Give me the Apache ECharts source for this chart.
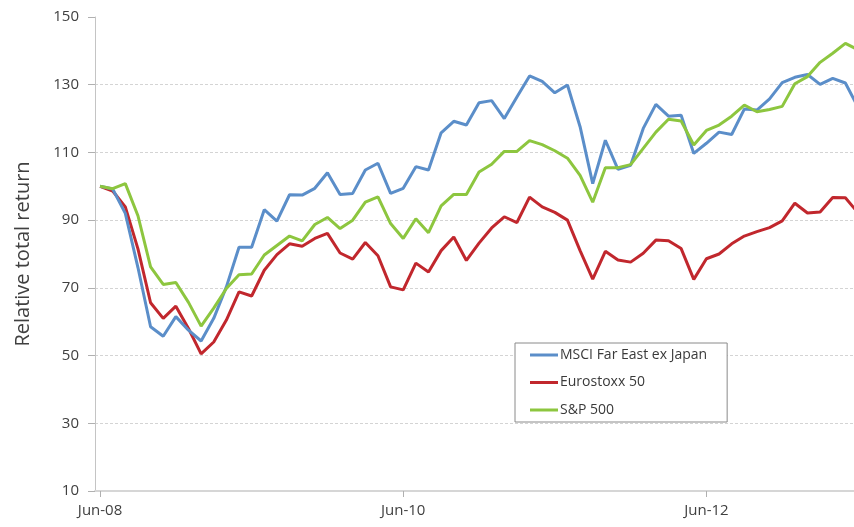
<!DOCTYPE html>
<html>
<head>
<meta charset="utf-8">
<script src="https://cdn.jsdelivr.net/npm/echarts@6/dist/echarts.min.js"></script>
<style>html,body{margin:0;padding:0;background:#fff}#c{width:854px;height:527px}</style>
</head>
<body>
<div id="c"></div>
<script>
// Monthly index, Jun-08 = 0 ... Jun-13 = 60
const tickMonths = [0, 24, 48];
const tickLabels = ['Jun-08', 'Jun-10', 'Jun-12'];
const seriesNames = ['MSCI Far East ex Japan', 'Eurostoxx 50', 'S&P 500'];

const msciFarEast = [100, 99.2, 92, 76, 58.5, 55.7, 61.5, 57.5, 54.3, 61, 70.3, 82, 82, 93.1, 89.7, 97.5, 97.4, 99.4, 104, 97.6, 97.9, 104.8, 106.8, 97.9, 99.4, 105.8, 104.8, 115.8, 119.2, 118.1, 124.7, 125.3, 120, 126.4, 132.6, 131, 127.6, 129.9, 117.6, 100.8, 113.6, 105, 106.2, 117.1, 124.2, 120.7, 121, 109.7, 112.7, 116, 115.3, 122.8, 122.5, 125.8, 130.6, 132.2, 133, 130.1, 131.9, 130.5, 123.4];
const eurostoxx50 = [100, 98.6, 93.9, 81.5, 65.6, 61, 64.6, 58, 50.5, 54, 60.5, 68.8, 67.6, 75.2, 79.8, 83, 82.3, 84.6, 86.1, 80.3, 78.5, 83.4, 79.5, 70.3, 69.4, 77.3, 74.7, 81, 85, 78.1, 83.2, 87.7, 91, 89.3, 96.8, 93.9, 92.3, 90, 81, 72.6, 80.8, 78.2, 77.6, 80.2, 84.1, 83.9, 81.6, 72.5, 78.6, 80, 83, 85.3, 86.6, 87.8, 89.8, 95, 92.1, 92.4, 96.7, 96.6, 92.2];
const sp500 = [100, 99.3, 100.8, 91.3, 76.2, 71, 71.6, 65.7, 58.7, 64, 69.8, 73.9, 74.1, 79.7, 82.5, 85.3, 83.9, 88.7, 90.8, 87.5, 90, 95.3, 96.9, 89, 84.6, 90.4, 86.3, 94.2, 97.6, 97.6, 104.2, 106.5, 110.3, 110.3, 113.5, 112.3, 110.5, 108.3, 103.2, 95.3, 105.5, 105.5, 106.4, 111.2, 116, 119.8, 119.3, 112.2, 116.5, 118.1, 120.7, 124, 122, 122.7, 123.6, 130.3, 132.4, 136.6, 139.3, 142.2, 140.3];

const colors = ['#5b8ec9', '#c1272d', '#8dc63f'];
const font = 'Open Sans, Noto Sans, sans-serif';
const toPairs = arr => arr.map((v, i) => [i, v]);

const chart = echarts.init(document.getElementById('c'), null, {renderer: 'canvas'});
chart.setOption({
  animation: false,
  color: colors,
  grid: {left: 95, right: -4, top: 17, bottom: 36, containLabel: false, outerBoundsMode: 'none'},
  legend: {
    orient: 'vertical',
    left: 515, top: 343,
    padding: [3, 20, 3, 15],
    itemGap: 9.5,
    itemWidth: 28, itemHeight: 3,
    icon: 'rect',
    borderColor: '#8a8a8a', borderWidth: 1,
    backgroundColor: '#fff',
    textStyle: {fontFamily: font, fontSize: 14, color: '#3a3a3a', lineHeight: 18, padding: [0, 0, 0, -3]},
    data: seriesNames
  },
  xAxis: {
    type: 'value', min: -0.4, max: 60,
    axisLine: {show: true, onZero: false, lineStyle: {color: '#d6d6d6', width: 2}},
    axisTick: {show: true, customValues: tickMonths, length: 6, lineStyle: {color: '#b0b0b0'}},
    axisLabel: {customValues: tickMonths, margin: 12, fontFamily: font, fontSize: 15, color: '#404040',
      formatter: v => tickLabels[tickMonths.indexOf(Math.round(v))] || ''},
    splitLine: {show: false}
  },
  yAxis: {
    type: 'value', min: 10, max: 150, interval: 20,
    name: 'Relative total return', nameLocation: 'middle', nameGap: 62, nameRotate: 90,
    nameTextStyle: {fontFamily: font, fontSize: 20, color: '#404040'},
    axisLine: {show: true, onZero: false, lineStyle: {color: '#c4c4c4', width: 1}},
    axisTick: {show: true, length: 7, lineStyle: {color: '#b0b0b0'}},
    axisLabel: {margin: 16, fontFamily: font, fontSize: 15, color: '#404040'},
    splitLine: {show: true, showMaxLine: false, showMinLine: false, lineStyle: {color: '#d4d4d4', type: [3, 2], width: 1}}
  },
  series: [
    {name: seriesNames[0], type: 'line', data: toPairs(msciFarEast), symbol: 'none', lineStyle: {width: 3}, z: 3},
    {name: seriesNames[1], type: 'line', data: toPairs(eurostoxx50), symbol: 'none', lineStyle: {width: 3}, z: 2},
    {name: seriesNames[2], type: 'line', data: toPairs(sp500), symbol: 'none', lineStyle: {width: 3}, z: 4}
  ]
});
</script>
</body>
</html>
